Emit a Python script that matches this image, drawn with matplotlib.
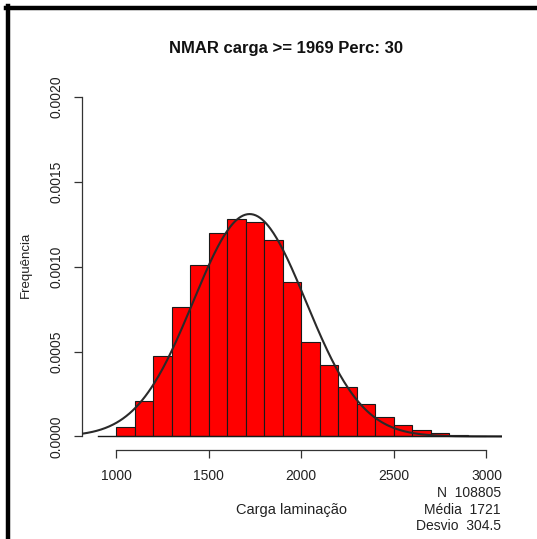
import numpy as np
import matplotlib
matplotlib.use("Agg")
import matplotlib.pyplot as plt
from matplotlib.lines import Line2D

plt.rcParams['font.family'] = ['Liberation Sans', 'DejaVu Sans']

# ------------------------------- DATA ------------------------------- #
bin_edges = np.arange(1000, 3001, 100)
densities = [0.000053, 0.00021, 0.000472, 0.000765, 0.00101, 0.001196,
             0.00128, 0.001265, 0.001157, 0.000912, 0.000555, 0.000418,
             0.000294, 0.000192, 0.000116, 0.000070, 0.000037, 0.000020,
             0.000010, 0.000004]
n_obs = 108805
media = 1721
desvio = 304.5
x_ticks = [1000, 1500, 2000, 2500, 3000]
y_ticks = [0.0000, 0.0005, 0.0010, 0.0015, 0.0020]
y_tick_labels = ["0.0000", "0.0005", "0.0010", "0.0015", "0.0020"]

# ------------------------------ FIGURE ------------------------------ #
W, H = 537, 539
fig = plt.figure(figsize=(W / 100, H / 100), dpi=100)
fig.patch.set_facecolor('white')

# black frame on top / left (screenshot border)
fig.add_artist(Line2D([6 / W, 1.0], [1 - 8 / H, 1 - 8 / H], color='black', lw=3.2, transform=fig.transFigure))
fig.add_artist(Line2D([8 / W, 8 / W], [0.0, 1 - 6 / H], color='black', lw=3.2, transform=fig.transFigure))

left, right = 82 / W, 502 / W
bottom, top = 1 - 450 / H, 1 - 83.4 / H
ax = fig.add_axes((left, bottom, right - left, top - bottom))

ax.set_xlim(816, 3084)
ax.set_ylim(-0.00008, 0.00208)

ax.bar(bin_edges[:-1], densities, width=100, align='edge', color='#ff0000',
       edgecolor='#1a1a1a', linewidth=0.8, zorder=2)

xs = np.linspace(816, 3084, 400)
pdf = np.exp(-0.5 * ((xs - media) / desvio) ** 2) / (desvio * np.sqrt(2 * np.pi))
ax.plot(xs, pdf, color='#2a2a2a', lw=1.5, zorder=3)
ax.plot([900, 3080], [0, 0], color='#1a1a1a', lw=1.0, zorder=3)

for s in ['top', 'right']:
    ax.spines[s].set_visible(False)
ax.spines['left'].set_bounds(0, 0.002)
ax.spines['bottom'].set_bounds(1000, 3000)
for s in ['left', 'bottom']:
    ax.spines[s].set_color('#333333')
    ax.spines[s].set_linewidth(0.9)

ax.set_xticks(x_ticks)
ax.set_xticklabels([str(t) for t in x_ticks])
ax.set_yticks(y_ticks)
ax.set_yticklabels(y_tick_labels, rotation=90, va='center')
ax.tick_params(axis='both', direction='out', length=6, width=0.9, color='#333333',
               labelsize=10, labelcolor='#222222')
ax.tick_params(axis='x', pad=8)
ax.tick_params(axis='y', pad=7)

fig.text(286 / W, 1 - 48 / H, "NMAR carga >= 1969 Perc: 30", ha='center', va='center',
         fontsize=12, fontweight='bold', color='#111111')

fig.text(26 / W, 1 - 265 / H, "Frequência", rotation=90, ha='center', va='center',
         fontsize=9.5, color='#222222')
fig.text(292 / W, 1 - 510 / H, "Carga laminação", ha='center', va='center',
         fontsize=10.5, color='#222222')
fig.text(501 / W, 1 - 493 / H, f"N  {n_obs}", ha='right', va='center', fontsize=10, color='#222222')
fig.text(501 / W, 1 - 510 / H, f"Média  {media}", ha='right', va='center', fontsize=10, color='#222222')
fig.text(501 / W, 1 - 526 / H, f"Desvio  {desvio}", ha='right', va='center', fontsize=10, color='#222222')

fig.savefig("out.png", dpi=100)
